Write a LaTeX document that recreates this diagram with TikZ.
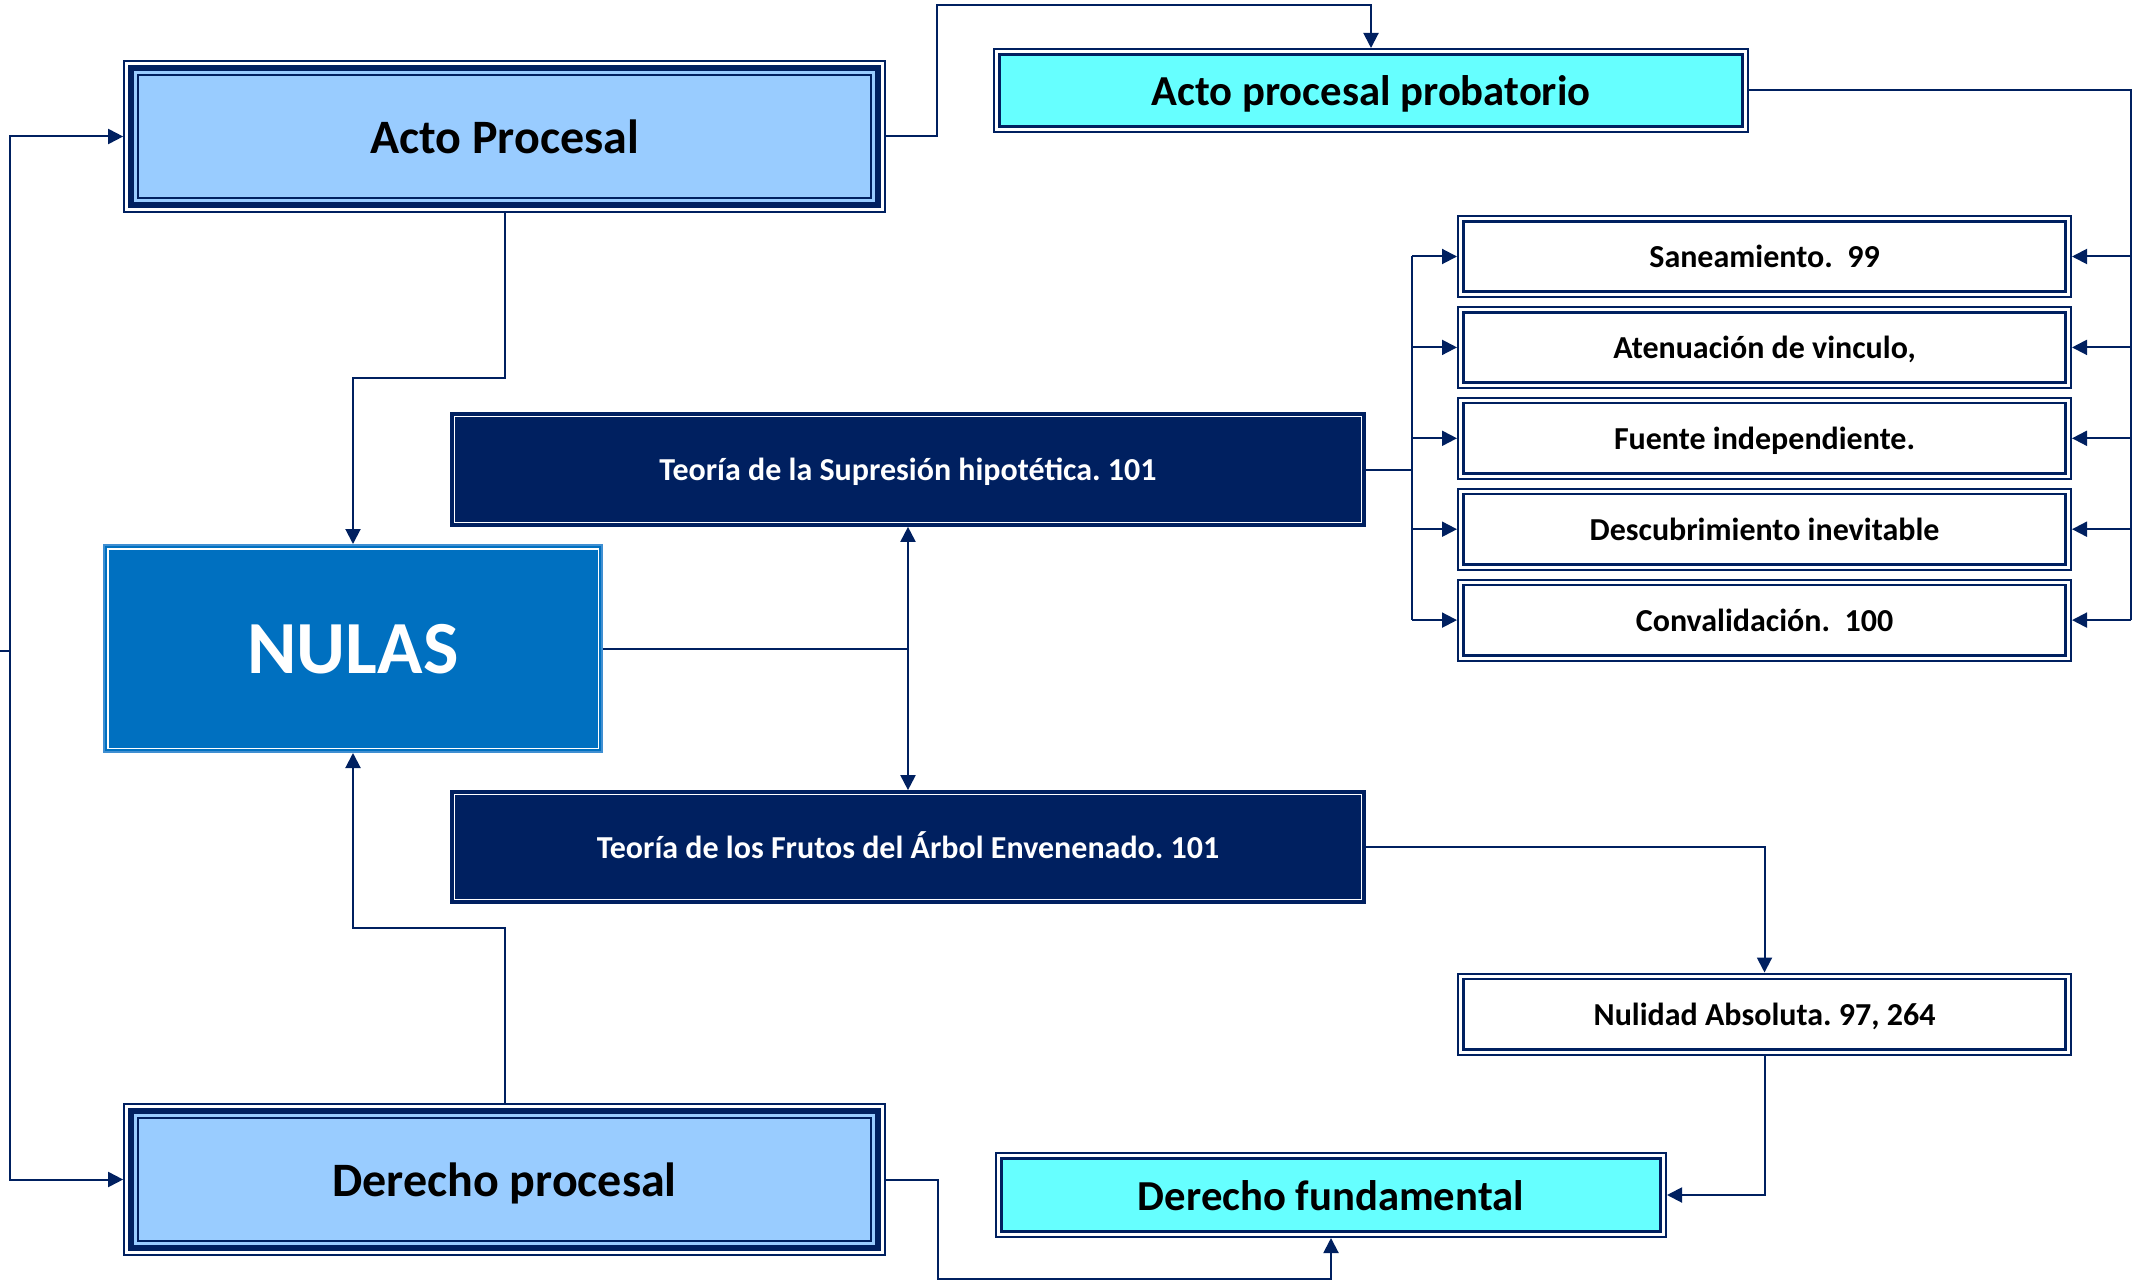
\documentclass[tikz,border=0pt]{standalone}
\usepackage{fontspec}
\setmainfont{Carlito}
\usetikzlibrary{arrows.meta}
\definecolor{navy}{HTML}{002060}
\definecolor{lblue}{HTML}{99CCFF}
\definecolor{cyanf}{HTML}{66FFFF}
\definecolor{nulasf}{HTML}{0070C0}
\definecolor{nulasb}{HTML}{3F8FD2}
\tikzset{
  bigbox/.style={draw=navy, line width=1.7pt, fill=white, inner sep=0pt,
    minimum width=761pt, minimum height=151pt,
    font=\fontsize{48}{56}\selectfont\bfseries, text height=33.5pt, text depth=0pt,
    path picture={
      \draw[navy,line width=6pt,fill=#1]
        ([shift={(7pt,-7pt)}]path picture bounding box.north west) rectangle
        ([shift={(-7pt,7pt)}]path picture bounding box.south east);
      \draw[navy,line width=2pt]
        ([shift={(14pt,-14pt)}]path picture bounding box.north west) rectangle
        ([shift={(-14pt,14pt)}]path picture bounding box.south east);}},
  smallbox/.style={draw=navy, line width=2pt, fill=white, inner sep=0pt,
    path picture={
      \draw[navy,line width=2.6pt,fill=#1]
        ([shift={(5.3pt,-5.3pt)}]path picture bounding box.north west) rectangle
        ([shift={(-5.3pt,5.3pt)}]path picture bounding box.south east);}},
  cybox/.style={smallbox=cyanf, font=\fontsize{42.7}{50}\selectfont\bfseries,
    text height=31pt, text depth=0pt},
  wbox/.style={smallbox=white, minimum width=613pt, minimum height=81pt,
    font=\fontsize{32}{38}\selectfont\bfseries, text height=22.5pt, text depth=0pt},
  navybox/.style={draw=navy, line width=1.7pt, fill=navy, text=white, inner sep=0pt,
    minimum width=914pt, minimum height=112pt,
    font=\fontsize{32}{38}\selectfont\bfseries, text height=22pt, text depth=0pt,
    path picture={
      \draw[white,line width=1.3pt]
        ([shift={(3.2pt,-3.2pt)}]path picture bounding box.north west) rectangle
        ([shift={(-3.2pt,3.2pt)}]path picture bounding box.south east);}},
  nulasbox/.style={draw=nulasb, line width=2pt, fill=nulasf, text=white, inner sep=0pt,
    minimum width=498pt, minimum height=207pt,
    font=\fontsize{75}{82}\selectfont\bfseries, text height=49.5pt, text depth=0pt,
    path picture={
      \draw[white,line width=1.8pt]
        ([shift={(3.6pt,-3.6pt)}]path picture bounding box.north west) rectangle
        ([shift={(-3.6pt,3.6pt)}]path picture bounding box.south east);}},
  conn/.style={draw=navy, line width=2pt},
  arr/.style={conn, -{Triangle[width=15pt,length=15pt]}},
}
\frenchspacing
\begin{document}
\begin{tikzpicture}[x=1pt,y=-1pt]
\useasboundingbox (0,0) rectangle (2144,1281);
% nodes
\node[bigbox=lblue] (ap) at (504.5,136.5) {Acto Procesal};
\node[bigbox=lblue] (dp) at (504.5,1179.5) {Derecho procesal};
\node[cybox, minimum width=754pt, minimum height=83pt] (pr) at (1371,90.5) {Acto procesal probatorio};
\node[cybox, minimum width=670pt, minimum height=84pt] (df) at (1331,1195) {Derecho fundamental};
\node[wbox] (s1) at (1764.5,256.5) {Saneamiento.~~99};
\node[wbox] (s2) at (1764.5,347.4) {Atenuación de vinculo,};
\node[wbox] (s3) at (1764.5,438.3) {Fuente independiente.};
\node[wbox] (s4) at (1764.5,529.2) {Descubrimiento inevitable};
\node[wbox] (s5) at (1764.5,620.1) {Convalidación.~~100};
\node[wbox] (nu) at (1764.5,1014) {Nulidad Absoluta. 97, 264};
\node[navybox, minimum height=113pt] (su) at (908,469.5) {Teoría de la Supresión hipotética. 101};
\node[navybox] (fr) at (908,847) {Teoría de los Frutos del Árbol Envenenado. 101};
\node[nulasbox] (nl) at (353,648.5) {NULAS};
% helper coordinates
\coordinate (rb) at (2131,0);
\coordinate (lb) at (1412,0);
\coordinate (lft) at (10,651);
\coordinate (lst) at (0,651);
% connectors
\draw[arr] (ap.east) -- (937,136.5) -- (937,5) -| (pr.north);
\draw[conn] (pr.east) -| (rb |- s5.east);
\foreach \n in {s1,s2,s3,s4,s5} \draw[arr] (rb |- \n.east) -- (\n.east);
\draw[conn] (su.east) -- (lb |- su.east);
\draw[conn] (lb |- s1.west) -- (lb |- s5.west);
\foreach \n in {s1,s2,s3,s4,s5} \draw[arr] (lb |- \n.west) -- (\n.west);
\draw[arr] (ap.south) -- (504.5,378) -| (nl.north);
\draw[arr] (dp.north) -- (504.5,928) -| (nl.south);
\draw[conn] (lst) -- (lft);
\draw[arr] (lft) |- (ap.west);
\draw[arr] (lft) |- (dp.west);
\draw[conn] (nl.east) -- (su.south |- nl.east);
\draw[arr] (su.south |- nl.east) -- (su.south);
\draw[arr] (su.south |- nl.east) -- (fr.north);
\draw[arr] (fr.east) -| (nu.north);
\draw[arr] (nu.south) |- (df.east);
\draw[arr] (dp.east) -- (938,1179.5) -- (938,1279) -| (df.south);
\end{tikzpicture}
\end{document}
